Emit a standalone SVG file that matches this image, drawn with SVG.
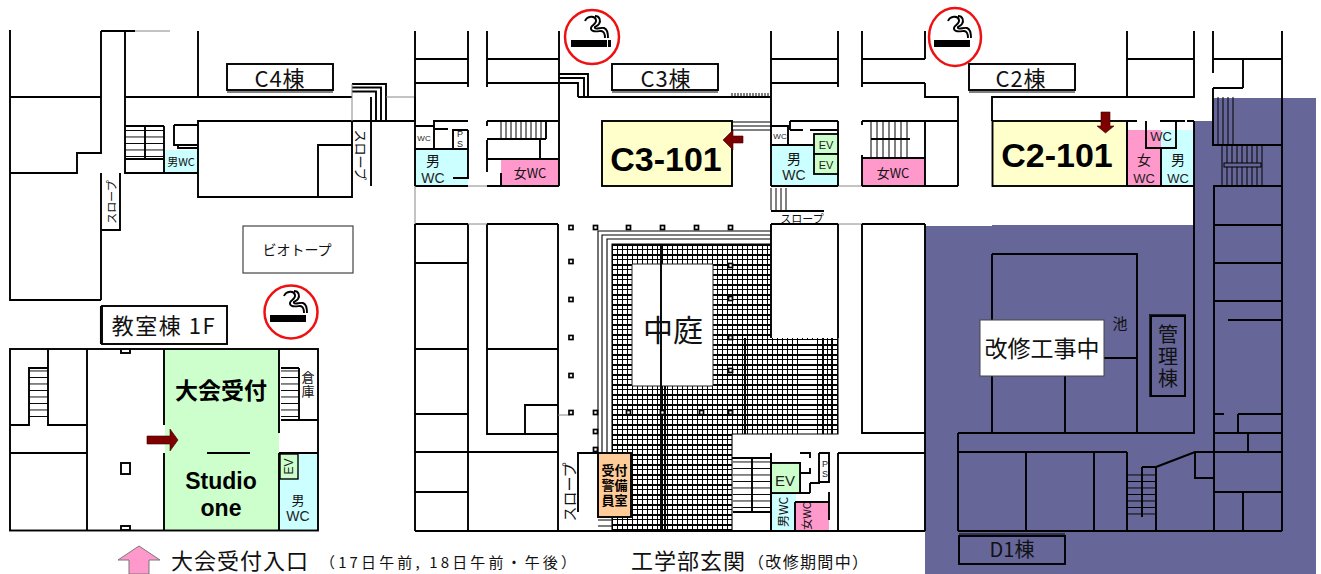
<svg xmlns="http://www.w3.org/2000/svg" width="1321" height="574" viewBox="0 0 1321 574">
<style>
.w{fill:none;stroke:#000;stroke-width:1.9}
.t{fill:none;stroke:#000;stroke-width:1.1}
.g{fill:none;stroke:#888;stroke-width:1}
.b{fill:#fff;stroke:#000;stroke-width:1.9}
.wht{fill:#fff}
.c{fill:#ccffff}.p{fill:#ff99cc}.y{fill:#ffffcc;stroke:#000;stroke-width:1.9}.gr{fill:#ccffcc}
.j{font-family:"Noto Sans CJK JP","Liberation Sans",sans-serif;fill:#111;text-anchor:middle}
.a{font-family:"Liberation Sans",sans-serif;font-weight:bold;fill:#000;text-anchor:middle}
.ab{font-family:"Noto Sans CJK JP",sans-serif;font-weight:bold;fill:#000;text-anchor:middle}
.s{font-family:"Liberation Sans",sans-serif;fill:#222;text-anchor:middle}
.ar{fill:#7f0000;stroke:#3a0000;stroke-width:.6}
.lg{font-family:"Noto Sans CJK JP",sans-serif;fill:#111}
</style>
<defs>
<pattern id="grid" x="612" y="244" width="5" height="10" patternUnits="userSpaceOnUse">
<rect x="0" y="0" width="5" height="2"/><rect x="0" y="5" width="5" height="1"/><rect x="0" y="0" width="1" height="10"/>
</pattern>
<pattern id="hg" x="612" y="244" width="5" height="10" patternUnits="userSpaceOnUse">
<rect x="0" y="0" width="5" height="2"/><rect x="0" y="5" width="5" height="1"/>
</pattern>
<pattern id="st" x="0" y="0" width="40" height="6.5" patternUnits="userSpaceOnUse">
<path d="M0 .5H40" stroke="#000" stroke-width="1" fill="none"/>
</pattern>
<g id="smoke">
<path d="M-7-16C-5-21 3-22 4-17S-2-12-1-8 7-6 9-6 13-4 13 1M3-21C8-21 9-16 7-13S2-11 3-9 9-10 12-9 16-5 16 1" fill="none" stroke="#000" stroke-width="1.9"/>
<rect x="-21" y="3" width="36" height="7"/>
</g>
</defs>
<rect id="bg" width="1321" height="574" fill="#fff"/>

<g id="construction-area">
<path d="M925 226H992V225H1194V121H1213V98H1316V574H925Z" fill="#666699"/>
</g>

<g id="fills">
<rect x="165" y="150" width="33" height="22" class="c"/>
<rect x="165" y="350" width="114" height="180" class="gr"/>
<rect x="280" y="454" width="37" height="76" class="c"/>
<rect x="415" y="149" width="53" height="37" class="c"/>
<rect x="501" y="159" width="58" height="27" class="p"/>
<rect x="771" y="145" width="67" height="41" class="c"/>
<rect x="863" y="159" width="62" height="27" class="p"/>
<rect x="1128" y="130" width="33" height="56" class="p"/>
<rect x="1161" y="130" width="33" height="56" class="c"/>
<rect x="771" y="493" width="25" height="38" class="c"/>
<rect x="796" y="502" width="33" height="29" class="p"/>
</g>

<g id="courtyard-grid">
<path d="M612 244H771V338H838V434H732V531H612ZM632 264V386H713V264Z" fill="url(#grid)" fill-rule="evenodd"/>
<rect x="802" y="339" width="12" height="95" class="wht"/>
<rect x="802" y="339" width="12" height="95" fill="url(#hg)"/>
<path d="M598 453V231H771M602 453V235H771M607 453V239H771M612 531V244H771M612 531H732V434H838V338" class="t"/>
<path d="M632 264H713V386H632Z" fill="#fff" stroke="#222" stroke-width="1"/>
<path d="M661 244V531M665 386V531M745 338V434M823 338V434M832 338V434" class="w" stroke-width="1.6"/>
<path d="M598 520H612M598 526H612M598 531H612" class="t"/>
</g>

<g id="walls-c4" class="w">
<path d="M10 30V300H101M10 97H101M101 31H135M101 31V153H77V173H10M125 31V173H198M198 31V97M125 97H352"/>
<path d="M101 173V300M101 173V230H120V173"/>
<path d="M198 121H415V97M198 121H352V197H198ZM318 197V145H352"/>
<path d="M174 125H198M174 125V145H198M178 146V148H198"/>
<path d="M371 97V186"/>
<path d="M164 126V173"/>
<path d="M352 84H386V121M352 87.500H381V121M352 91.500H376V121"/>
<rect x="125" y="126" width="39" height="33" fill="url(#st)" stroke="none"/>
<path d="M145 126V159M125 126H164M125 159H164"/>
</g>
<path d="M135 31H170M352 84V121M386 97H415" class="g"/>

<g id="walls-classroom" class="w">
<rect x="10" y="349" width="308" height="181.500"/>
<path d="M87 349V530M164 349V425M164 453V530M279 349V433M279 453V530M48 349V425H87M10 425H29V368H48M10 453H87M207 453H250M299 368V420H318M279 453H318"/>
<rect x="29" y="368" width="19" height="52" fill="url(#st)" stroke="none"/>
<rect x="281" y="368" width="18" height="52" fill="url(#st)" stroke="none"/>
<path d="M281 368H299M281 420H299"/>
<rect x="121" y="349" width="9" height="4" class="b"/>
<rect x="121" y="463" width="9" height="11" class="b"/>
<rect x="121" y="526" width="9" height="4" class="b"/>
</g>
<g id="ev-classroom"><rect x="280" y="454" width="18" height="25" fill="#ccffcc" stroke="#000" stroke-width="1.4"/></g>

<g id="walls-c3" class="w">
<path d="M415 31V186M415 224V531M468 31V87M487 31V87M559 31V186M415 59H468M487 59H559M415 83H468M487 83H559"/>
<path d="M433 121H468M487 121H559M415 126H434V149M434 121V126M435 129H448M453 149V130H468M468 130V178H453M415 149H468M415 186H468M487 186H559"/>
<path d="M487 121V126M487 140V172M501 173V186M487 139H546M546 121V139M540 139V159M487 159H559"/>
<path d="M501 121V139M506 121V139M511 121V139M516 121V139M521 121V139M526 121V139M531 121V139M536 121V139M541 121V139" stroke-width="1"/>
<path d="M559 74H588V97M559 78H584V97M559 83H578V97M578 97H771"/>
<path d="M732 93V97M735 93V97M738 93V97M741 93V97M744 93V97M747 93V97M750 93V97M753 93V97M756 93V97M759 93V97M762 93V97M765 93V97M768 93V97" stroke-width="1"/>
<path d="M732 122H771M732 126H771M732 130H771" stroke-width="1"/>
<path d="M415 224H468M487 224H558M415 263H468M415 349H468M487 349H558M415 414H468M415 452H558M415 492H468M415 531H925"/>
<path d="M468 224V531M487 224V434H558M558 224V531M525 434V405H558"/>
</g>
<path d="M468 224H487M468 186H487M558 415H570M415 186V224M838 224H862M838 186H862" class="g"/>
<rect x="602" y="121" width="130" height="65" class="y"/>

<g id="walls-c2" class="w">
<path d="M771 31V186M771 224V338M838 31V87M862 31V87M771 59H838M862 59H925M771 83H838M862 83H925M925 31V59M925 83V97H958V186"/>
<path d="M790 121H838M790 121V130M790 130H803M810 130H838M771 126H788V145M771 145H814M862 121H958M838 121V186M862 121V125M862 155V186M771 186H838M862 186H958M925 121V186"/>
<path d="M862 158H925M871 139H910"/>
<path d="M871 121V158M877 121V158M883 121V158M889 121V158M895 121V158M901 121V158M907 121V158" stroke-width="1"/>
<path d="M771 188V210M776 188V210M781 188V210M786 188V210" stroke-width="1"/>
<path d="M771 211H824M771 224H838M862 224H925M838 224V338M862 224V433H925M925 224V531M838 453V531M838 453H925"/>
<path d="M992 121V97H1194V31M1127 97V31M1127 59H1194M1213 31V73M1213 88V97M1213 59H1282M1243 59V88M1213 88H1243"/>
<path d="M771 453V531M732 458H771M733 512H771M752 458V512M771 463H800V493M771 493H810M800 453H810V458M800 473H810V468M810 483H820M810 483V493M819 453H829V482H819V453M795 502H829M829 492V520"/>
</g>
<rect x="733" y="458" width="38" height="54" fill="url(#st)"/>
<rect x="992.500" y="121" width="134.500" height="65" class="y"/>
<g id="ev-c2"><rect x="814" y="134" width="24" height="20" fill="#ccffcc" stroke="#000" stroke-width="1.8"/><rect x="814" y="154" width="24" height="20" fill="#ccffcc" stroke="#000" stroke-width="1.8"/></g>
<rect id="ev-main" x="771" y="463" width="29" height="30" fill="#ccffcc" stroke="#000" stroke-width="1.8"/>
<path d="M795 502V531M771 453V531" class="w"/>

<g id="walls-c2-east" class="w">
<path d="M1127 121H1137M1127 121V186M1127 186H1194M1146 121V148H1176V121M1160 121H1185M1187 121H1194M1161 148V186M1194 121V433"/>
<path d="M1282 31V531M1213 97V145H1282M1214 186V531M1213 186H1282M1214 225H1282M1214 263H1282M1214 301H1282M1228 320H1282M1214 414H1224M1238 414H1282M1238 414V433M1214 433H1282M1248 433V452"/>
<path d="M1218 97V145M1223 97V145M1228 97V145M1233 97V145M1222 145V186M1227 145V186M1232 145V186M1237 145V186M1242 145V186M1247 145V186M1252 145V186M1257 145V186M1262 145V186" stroke-width="1"/>
<rect x="1224" y="163" width="37" height="4" fill="#666699" stroke="#000" stroke-width="1"/>
<path d="M992 254H1137V433M992 254V433M958 433H1195M958 433V531M958 452H1127M1026 452V531M1094 452V531M1127 452V531M958 531H1282M1065 376V433M1104 358H1137"/>
<path d="M1142 467H1156V531M1142 467V517M1156 467L1195 452H1282M1195 452V478H1214M1214 492H1282M1243 492V531"/>
</g>
<rect x="1127" y="473" width="29" height="44" fill="url(#st)"/>

<g id="pillars" class="b" style="stroke-width:1.7">
<rect x="569" y="225.500" width="4" height="4"/><rect x="569" y="259.500" width="4" height="4"/><rect x="569" y="297.500" width="4" height="4"/><rect x="569" y="335.500" width="4" height="4"/><rect x="569" y="373.500" width="4" height="4"/><rect x="569" y="410.500" width="4" height="4"/>
<rect x="593.500" y="225.500" width="4" height="4"/><rect x="626.500" y="225.500" width="4" height="4"/><rect x="660.500" y="225.500" width="4" height="4"/><rect x="694.500" y="225.500" width="4" height="4"/><rect x="728.500" y="225.500" width="4" height="4"/>
<rect x="728.500" y="263.500" width="4" height="4"/><rect x="728.500" y="296.500" width="4" height="4"/><rect x="728.500" y="335.500" width="4" height="4"/><rect x="728.500" y="368.500" width="4" height="4"/><rect x="728.500" y="410.500" width="4" height="4"/>
<rect x="626.500" y="410.500" width="4" height="4"/><rect x="660.500" y="410.500" width="4" height="4"/><rect x="699.500" y="410.500" width="4" height="4"/>
<rect x="593.500" y="410.500" width="4" height="4"/><rect x="593.500" y="429.500" width="4" height="4"/><rect x="593.500" y="447.500" width="4" height="4"/>
</g>

<g id="reception-guard"><rect x="598" y="453" width="33" height="64" fill="#ffcc99" stroke="#000" stroke-width="1.9"/>
<text class="ab" font-size="13" x="614.500" y="475">受付</text><text class="ab" font-size="13" x="614.500" y="490">警備</text><text class="ab" font-size="13" x="614.500" y="505">員室</text></g>
<path d="M578 512V453H598" class="w"/>

<g id="labels-boxes">
<rect x="227" y="64" width="106" height="26" class="b"/><path d="M227 92H333" class="t"/>
<text class="j" font-size="22" letter-spacing="1" x="280" y="87">C4棟</text>
<rect x="102" y="306" width="125" height="38" class="b"/><path d="M100.500 306V344" class="t"/>
<text class="j" font-size="22" letter-spacing="1.500" x="164" y="334">教室棟 1F</text>
<rect x="612" y="64" width="106" height="26" class="b"/><path d="M612 92H718" class="t"/>
<text class="j" font-size="22" letter-spacing="1" x="666" y="87">C3棟</text>
<rect x="969" y="64" width="106" height="26" class="b"/><path d="M969 92H1075" class="t"/>
<text class="j" font-size="22" letter-spacing="1" x="1021" y="87">C2棟</text>
<rect x="243" y="226" width="110" height="47" fill="#fff" stroke="#444" stroke-width="1.2"/>
<text class="j" font-size="14" x="297" y="255">ビオトープ</text>
<rect x="980" y="320" width="124" height="56" fill="#fff" stroke="#444" stroke-width="1"/>
<text class="j" font-size="23" x="1042" y="357">改修工事中</text>
<text class="j" font-size="15" x="1120" y="329">池</text>
<rect x="1151" y="316" width="34" height="80" fill="none" stroke="#000" stroke-width="1.9"/><rect x="1149.500" y="314.500" width="36" height="82" fill="none" stroke="#000" stroke-width=".7"/>
<text class="j" font-size="20"><tspan x="1168" y="342">管</tspan><tspan x="1168" y="364">理</tspan><tspan x="1168" y="386">棟</tspan></text>
<rect x="959" y="536" width="106" height="28" fill="none" stroke="#000" stroke-width="1.9"/><path d="M959 534H1065" class="t" stroke-width=".7"/>
<text class="j" font-size="20" x="1012" y="557">D1棟</text>
<text class="j" font-size="30" x="673" y="341">中庭</text>
</g>

<g id="room-labels">
<text class="a" font-size="34" x="666" y="171">C3-101</text>
<text class="a" font-size="34" x="1057" y="167">C2-101</text>
<text class="ab" font-size="23" x="221" y="399">大会受付</text>
<text class="a" font-size="23" x="221" y="489">Studio</text>
<text class="a" font-size="23" x="221" y="516">one</text>
<text class="j" font-size="11" x="181" y="166">男WC</text>
<text class="j" font-size="13"><tspan x="308" y="382">倉</tspan><tspan x="308" y="396">庫</tspan></text>
<text class="s" font-size="12" transform="translate(293,466.500) rotate(-90)">EV</text>
<text class="j" font-size="13" x="298" y="505">男</text><text class="s" font-size="14" x="298" y="521">WC</text>
<text class="s" font-size="8" x="424" y="141">WC</text>
<text class="j" font-size="14" x="433" y="166">男</text><text class="s" font-size="14" x="433" y="183">WC</text>
<text class="j" font-size="13" x="530" y="178">女WC</text>
<text class="s" font-size="9" x="460" y="137">P</text><text class="s" font-size="9" x="460" y="147">S</text>
<text class="s" font-size="8" x="780" y="139">WC</text>
<text class="j" font-size="14" x="794" y="164">男</text><text class="s" font-size="14" x="794" y="180">WC</text>
<text class="s" font-size="11" x="826" y="149">EV</text><text class="s" font-size="11" x="826" y="169">EV</text>
<text class="j" font-size="13" x="893" y="178">女WC</text>
<text class="j" font-size="11" x="802" y="223">スロープ</text>
<text class="s" font-size="13" x="1161" y="141">WC</text>
<text class="j" font-size="14" x="1144" y="165">女</text><text class="s" font-size="13" x="1144" y="183">WC</text>
<text class="j" font-size="14" x="1178" y="165">男</text><text class="s" font-size="13" x="1178" y="183">WC</text>
<text class="s" font-size="15" x="785" y="486">EV</text>
<text class="s" font-size="9" x="825" y="467">P</text><text class="s" font-size="9" x="825" y="477">S</text>
<text class="j" font-size="12" transform="translate(788,512) rotate(-90)">男WC</text>
<text class="j" font-size="11" transform="translate(811,516) rotate(-90)">女WC</text>
<text class="j" font-size="13" transform="translate(356,155) rotate(90)">スロープ</text>
<text class="j" font-size="11" transform="translate(116,202) rotate(-90)">スロープ</text>
<text class="j" font-size="15" transform="translate(575,492) rotate(-90)">スロープ</text>
</g>

<g id="smoking-signs">
<g transform="translate(291,312)"><circle r="26.500" fill="#fff" stroke="#ee1111" stroke-width="2.500"/><use href="#smoke"/></g>
<g transform="translate(592,37)"><circle r="27" fill="#fff" stroke="#ee1111" stroke-width="2.500"/><use href="#smoke"/><rect x="16" y="3" width="3" height="7"/></g>
<g transform="translate(955,37)"><ellipse rx="26" ry="29" fill="#fff" stroke="#ee1111" stroke-width="2.500"/><use href="#smoke"/></g>
</g>

<g id="arrows">
<path class="ar" d="M147 436H170V429L178 440L170 451V444H147Z"/>
<path class="ar" d="M743 136H733V130L723 140L733 150V143H743Z"/>
<path class="ar" d="M1101 112H1110V126H1114L1105.500 133L1097 126H1101Z"/>
<path d="M139 546L160 560H149V574H129V560H118Z" fill="#ff99cc" stroke="#777" stroke-width="1"/>
</g>

<g id="legend">
<text class="lg" x="171" y="569" font-size="22" letter-spacing="1">大会受付入口</text>
<text class="lg" x="320" y="568" font-size="15" textLength="256">（17日午前, 18日午前・午後）</text>
<text class="lg" x="631" y="569" font-size="22" letter-spacing="1">工学部玄関</text>
<text class="lg" x="748" y="568" font-size="16" textLength="120">（改修期間中）</text>
</g>
</svg>
